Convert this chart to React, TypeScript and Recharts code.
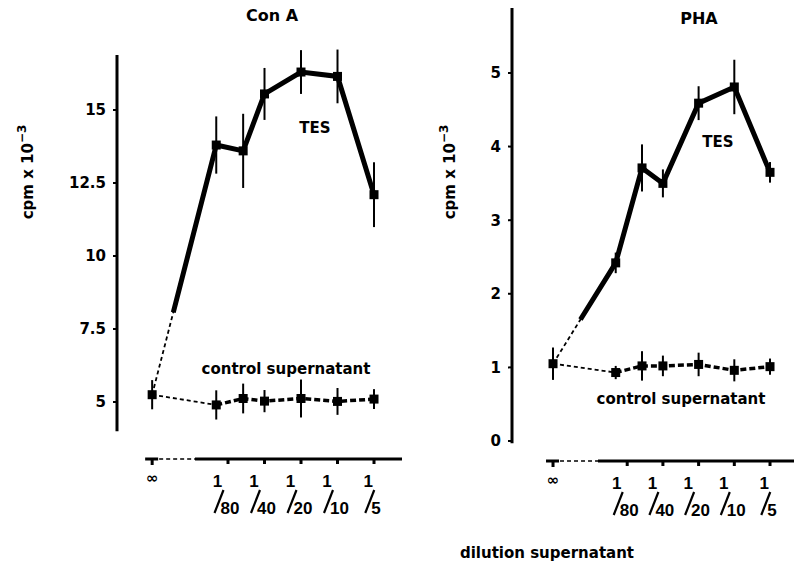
import React from "react";
import {
	ComposedChart,
	Line,
	XAxis,
	YAxis,
	ErrorBar,
	ReferenceLine,
} from "recharts";

// supernatant dilution as 1/d; Infinity = medium without supernatant
const dilutions = [Infinity, 100, 60, 40, 20, 10, 5];
const axisDilutions = [Infinity, 80, 40, 20, 10, 5];

// cpm x 10^-3, mean and error
const conATes = [5.25, 13.8, 13.6, 15.55, 16.3, 16.15, 12.1];
const conATesErr = [0.5, 0.98, 1.27, 0.89, 0.75, 0.92, 1.11];
const conAControl = [5.25, 4.9, 5.12, 5.03, 5.12, 5.02, 5.1];
const conAControlErr = [0.5, 0.5, 0.51, 0.38, 0.65, 0.46, 0.34];

const phaTes = [1.05, 2.42, 3.71, 3.5, 4.59, 4.81, 3.65];
const phaTesErr = [0.22, 0.14, 0.32, 0.19, 0.23, 0.37, 0.14];
const phaControl = [1.05, 0.93, 1.02, 1.02, 1.04, 0.96, 1.01];
const phaControlErr = [0.22, 0.09, 0.2, 0.14, 0.16, 0.15, 0.11];

const conATicks = [5, 7.5, 10, 12.5, 15];
const phaTicks = [0, 1, 2, 3, 4, 5];

const FONT = '"DejaVu Sans", sans-serif';
const NUM_FONT = '"Liberation Sans", Arial, sans-serif';

// log2 scale for the dilutions, infinity parked left of the break
const INF_X = -8.4;
const xPos = (d: number) => (Number.isFinite(d) ? -Math.log2(d) : INF_X);

const toPoints = (vals: number[], errs: number[]) =>
	dilutions.map((d, i) => ({ x: xPos(d), y: vals[i], err: errs[i] }));

const square = (props: any) => (
	<rect
		key={`sq-${props.index}-${props.cx}`}
		x={props.cx - 4.5}
		y={props.cy - 4.5}
		width={9}
		height={9}
		fill="#000"
	/>
);

function DilutionTick(props: any) {
	const { x, y, payload } = props;
	const d = axisDilutions.find((v) => Math.abs(xPos(v) - payload.value) < 1e-6);
	if (d === undefined) return null;
	if (!Number.isFinite(d)) {
		return (
			<g>
				<rect x={x - 7} y={y - 1.5} width={13} height={3} fill="#000" />
				<rect x={x - 1.5} y={y} width={3} height={6} fill="#000" />
				<text
					x={x}
					y={y + 24}
					textAnchor="middle"
					fontFamily={FONT}
					fontWeight="bold"
					fontSize={15}
				>
					∞
				</text>
			</g>
		);
	}
	const den = String(d);
	const half = (den.length * 9.5) / 2;
	return (
		<g>
			<rect x={x - 1.5} y={y} width={3} height={5} fill="#000" />
			<text
				x={x - half - 1}
				y={y + 28}
				textAnchor="middle"
				fontFamily={NUM_FONT}
				fontWeight="bold"
				fontSize={17}
			>
				1
			</text>
			<line
				x1={x - half - 4}
				y1={y + 54}
				x2={x - half + 5}
				y2={y + 31}
				stroke="#000"
				strokeWidth={2.2}
			/>
			<text
				x={x - half + 2}
				y={y + 55}
				textAnchor="start"
				fontFamily={NUM_FONT}
				fontWeight="bold"
				fontSize={17}
			>
				{den}
			</text>
		</g>
	);
}

interface PanelProps {
	left: number;
	width: number;
	margin: { top: number; right: number; bottom: number; left: number };
	xDomain: [number, number];
	yDomain: [number, number];
	yAxisSpan: [number, number];
	axisBreak: number;
	leadGap: number;
	yTicks: number[];
	tes: number[];
	tesErr: number[];
	control: number[];
	controlErr: number[];
}

function Panel(p: PanelProps) {
	const tes = toPoints(p.tes, p.tesErr);
	const ctl = toPoints(p.control, p.controlErr);
	const [x0, x1] = p.xDomain;
	const y0 = p.yDomain[0];
	const bar = (
		<ErrorBar
			dataKey="err"
			direction="y"
			width={0}
			stroke="#000"
			strokeWidth={2}
			isAnimationActive={false}
		/>
	);
	return (
		<div style={{ position: "absolute", left: p.left, top: 0 }}>
			<ComposedChart width={p.width} height={564} margin={p.margin}>
				<XAxis
					type="number"
					dataKey="x"
					domain={p.xDomain}
					allowDataOverflow
					ticks={axisDilutions.map(xPos)}
					interval={0}
					axisLine={false}
					tickLine={false}
					tickSize={0}
					tickMargin={0}
					height={60}
					tick={(t: any) => <DilutionTick {...t} />}
				/>
				<YAxis
					type="number"
					domain={p.yDomain}
					allowDataOverflow
					ticks={p.yTicks}
					interval={0}
					axisLine={false}
					tickSize={4}
					tickMargin={7}
					tickLine={{ stroke: "#000", strokeWidth: 2 }}
					width={57}
					tick={{
						fontFamily: FONT,
						fontSize: 15,
						fontWeight: "bold",
						fill: "#000",
					}}
				/>
				<ReferenceLine
					segment={[
						{ x: x0, y: p.yAxisSpan[0] },
						{ x: x0, y: p.yAxisSpan[1] },
					]}
					stroke="#000"
					strokeWidth={3}
					ifOverflow="visible"
				/>
				<ReferenceLine
					segment={[
						{ x: INF_X, y: y0 },
						{ x: p.axisBreak, y: y0 },
					]}
					stroke="#000"
					strokeWidth={1.5}
					strokeDasharray="4 3"
					ifOverflow="visible"
				/>
				<ReferenceLine
					segment={[
						{ x: p.axisBreak, y: y0 },
						{ x: x1, y: y0 },
					]}
					stroke="#000"
					strokeWidth={3}
					ifOverflow="visible"
				/>
				{/* lead-in from the unstimulated point */}
				<Line
					data={ctl.slice(0, 2)}
					dataKey="y"
					stroke="#000"
					strokeWidth={1.8}
					strokeDasharray="4 3"
					dot={false}
					isAnimationActive={false}
				/>
				<Line
					data={tes.slice(0, 2)}
					dataKey="y"
					stroke="#000"
					strokeWidth={1.8}
					strokeDasharray="4 3"
					dot={false}
					isAnimationActive={false}
				/>
				<Line
					data={tes.slice(0, 2)}
					dataKey="y"
					stroke="#000"
					strokeWidth={5}
					strokeDasharray={`0 ${p.leadGap} 1000`}
					dot={false}
					isAnimationActive={false}
				/>
				<Line
					data={tes.slice(1)}
					dataKey="y"
					stroke="#000"
					strokeWidth={5}
					dot={square}
					isAnimationActive={false}
				>
					{bar}
				</Line>
				<Line
					data={ctl.slice(1)}
					dataKey="y"
					stroke="#000"
					strokeWidth={3.5}
					strokeDasharray="6 3"
					dot={square}
					isAnimationActive={false}
				>
					{bar}
				</Line>
				<Line
					data={ctl.slice(0, 1)}
					dataKey="y"
					stroke="none"
					dot={square}
					isAnimationActive={false}
				>
					{bar}
				</Line>
			</ComposedChart>
		</div>
	);
}

const txt = {
	fontFamily: FONT,
	fontWeight: "bold" as const,
	fontSize: 15,
	fill: "#000",
};

function YLabel({ x, y }: { x: number; y: number }) {
	return (
		<text
			{...txt}
			x={0}
			y={0}
			textAnchor="middle"
			transform={`translate(${x},${y}) rotate(-90)`}
		>
			cpm x 10
			<tspan fontSize={12} dy={-7}>
				−3
			</tspan>
		</text>
	);
}

export default function App() {
	return (
		<div
			style={{
				position: "absolute",
				left: 0,
				top: 0,
				width: 794,
				height: 564,
				background: "#fff",
			}}
		>
			<Panel
				left={0}
				width={410}
				margin={{ top: 40, right: 8, bottom: 45, left: 60 }}
				xDomain={[-9.363, -1.555]}
				yDomain={[3.048, 17.397]}
				yAxisSpan={[4.0, 16.884]}
				axisBreak={-7.226}
				leadGap={85}
				yTicks={conATicks}
				tes={conATes}
				tesErr={conATesErr}
				control={conAControl}
				controlErr={conAControlErr}
			/>
			<Panel
				left={400}
				width={394}
				margin={{ top: 8, right: 0, bottom: 43, left: 55 }}
				xDomain={[-9.549, -1.65]}
				yDomain={[-0.272, 5.883]}
				yAxisSpan={[-0.03, 5.883]}
				axisBreak={-7.14}
				leadGap={52}
				yTicks={phaTicks}
				tes={phaTes}
				tesErr={phaTesErr}
				control={phaControl}
				controlErr={phaControlErr}
			/>
			<svg
				width={794}
				height={564}
				style={{ position: "absolute", left: 0, top: 0, pointerEvents: "none" }}
			>
				<text {...txt} fontSize={16} x={272} y={21} textAnchor="middle">
					Con A
				</text>
				<text {...txt} fontSize={16} x={699} y={24} textAnchor="middle">
					PHA
				</text>
				<YLabel x={33} y={172} />
				<YLabel x={455} y={172} />
				<text {...txt} x={315} y={133} textAnchor="middle">
					TES
				</text>
				<text {...txt} x={718} y={147} textAnchor="middle">
					TES
				</text>
				<text {...txt} x={286} y={374} textAnchor="middle">
					control supernatant
				</text>
				<text {...txt} x={681} y={404} textAnchor="middle">
					control supernatant
				</text>
				<text {...txt} x={547} y={558} textAnchor="middle">
					dilution supernatant
				</text>
			</svg>
		</div>
	);
}
